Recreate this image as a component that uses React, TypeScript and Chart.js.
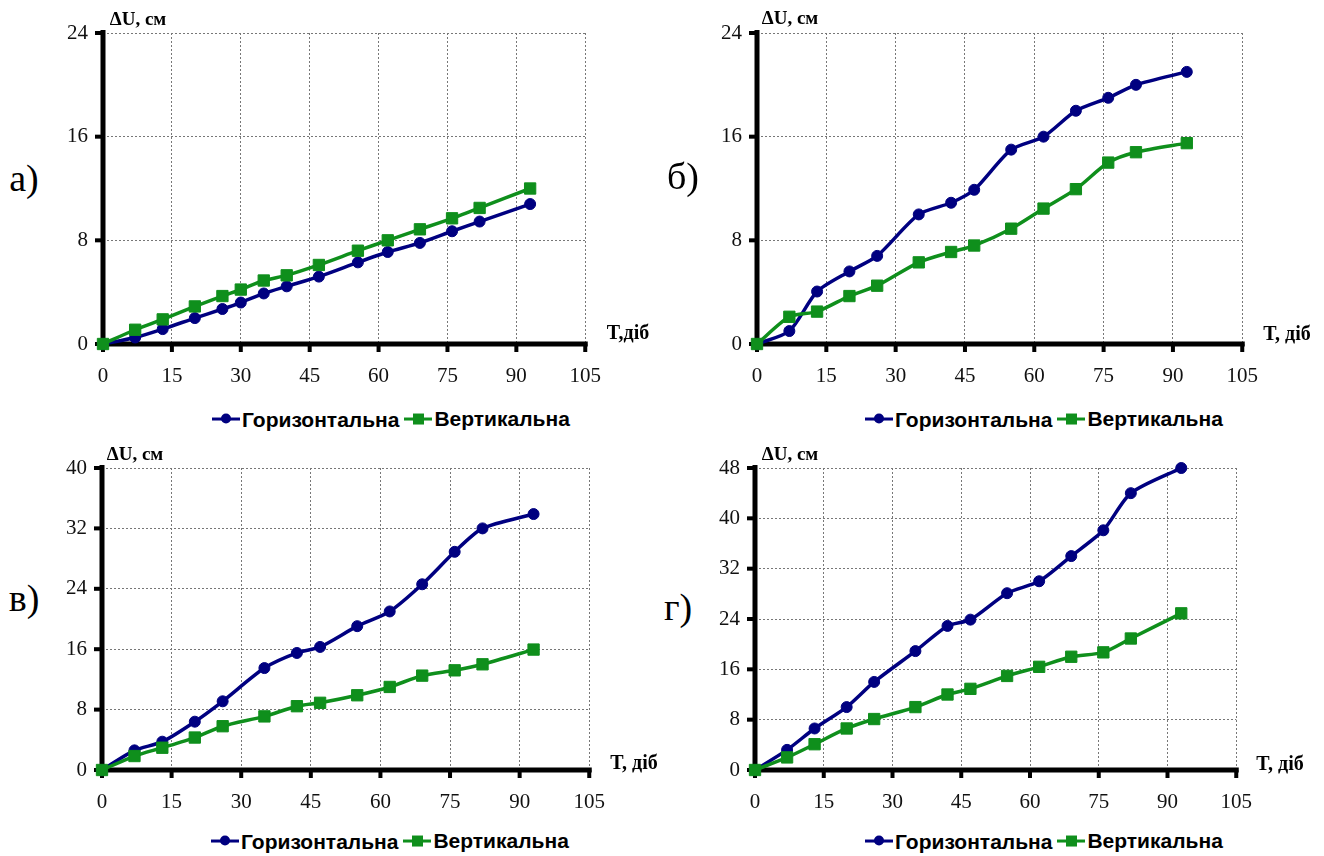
import React, { useEffect, useRef } from "react";
import { Chart, registerables } from "chart.js";

// ---- data ----
const daysA = [0, 7, 13, 20, 26, 30, 35, 40, 47, 55.5, 62, 69, 76, 82, 93];
const horizA = [0, 0.5, 1.15, 2.0, 2.7, 3.2, 3.9, 4.45, 5.2, 6.3, 7.1, 7.8, 8.7, 9.45, 10.8];
const vertA = [0, 1.1, 1.9, 2.9, 3.7, 4.2, 4.9, 5.3, 6.1, 7.2, 8.0, 8.85, 9.7, 10.5, 12.0];

const days = [0, 7, 13, 20, 26, 35, 42, 47, 55, 62, 69, 76, 82, 93];
const horizB = [0, 1.0, 4.05, 5.6, 6.8, 10.0, 10.9, 11.9, 15.0, 16.0, 18.0, 19.0, 20.0, 21.0];
const vertB = [0, 2.1, 2.5, 3.7, 4.5, 6.3, 7.1, 7.6, 8.9, 10.45, 11.95, 14.0, 14.8, 15.5];
const horizV = [0, 2.6, 3.75, 6.4, 9.1, 13.5, 15.5, 16.3, 19.05, 21.0, 24.6, 28.9, 32.0, 33.9];
const vertV = [0, 1.85, 2.95, 4.3, 5.8, 7.1, 8.45, 8.9, 9.9, 11.0, 12.5, 13.2, 14.0, 15.95];
const horizG = [0, 3.2, 6.6, 10.0, 14.0, 18.9, 22.9, 23.9, 28.1, 30.0, 34.0, 38.1, 44.0, 48.0];
const vertG = [0, 2.0, 4.1, 6.6, 8.1, 10.0, 12.0, 12.9, 14.95, 16.4, 18.0, 18.7, 20.9, 24.9];

const seriesNames = ["Горизонтальна", "Вертикальна"];
const yTitle = "ΔU, см";
const xMax = 105;
const xStep = 15;
const yStep = 8;

// ---- styles ----
const BLUE = "#000080";
const GREEN = "#0f8f1c";
const SERIF = "'Liberation Serif', 'Times New Roman', serif";
const SANS = "'Liberation Sans', Arial, sans-serif";

function drawAxes(chart: any) {
  const ctx: CanvasRenderingContext2D = chart.ctx;
  const area = chart.chartArea;
  const x = chart.scales["x"];
  const y = chart.scales["y"];
  if (!area || !x || !y) return;
  const { left, right, top, bottom } = area;
  ctx.save();
  ctx.setLineDash([]);
  ctx.globalAlpha = 1;
  ctx.fillStyle = "#000000";
  // axis bars
  ctx.fillRect(left - 2.5, top - 3, 5, bottom - top + 5.5);
  ctx.fillRect(left - 2.5, bottom - 2.5, right - left + 5, 5);
  // outward tick marks
  for (const t of x.ticks) {
    const px = x.getPixelForValue(t.value);
    ctx.fillRect(px - 2, bottom, 4, 8);
  }
  for (const t of y.ticks) {
    const py = y.getPixelForValue(t.value);
    ctx.fillRect(left - 8, py - 2, 8, 4);
  }
  ctx.restore();
}

const axesPlugin = {
  id: "thickAxes",
  beforeDatasetsDraw(chart: any) {
    drawAxes(chart);
  },
};

Chart.register(...registerables);

type Rect = { l: number; t: number; r: number; b: number };
type PanelProps = {
  xs: number[];
  horiz: number[];
  vert: number[];
  yMax: number;
  plot: Rect;
  letter: string;
  letterPos: [number, number];
  yTitlePos: [number, number];
  xTitle: string;
  xTitlePos: [number, number];
  legendPos: [number, number];
};

const Y_AXIS_W = 60;
const X_AXIS_H = 50;
const PAD = { top: 20, right: 25, bottom: 0, left: 0 };

function LegendSymbol({ color, square }: { color: string; square: boolean }) {
  return (
    <span
      style={{
        position: "relative",
        display: "inline-block",
        width: 28,
        height: 12,
        marginRight: 2,
        verticalAlign: "middle",
      }}
    >
      <span
        style={{
          position: "absolute",
          left: 0,
          top: 4.5,
          width: 28,
          height: 3,
          background: color,
        }}
      />
      <span
        style={{
          position: "absolute",
          left: square ? 8.5 : 9,
          top: square ? 0.5 : 1,
          width: square ? 11 : 10,
          height: square ? 11 : 10,
          borderRadius: square ? 0 : "50%",
          background: color,
        }}
      />
    </span>
  );
}

function Label({ pos, text, style }: { pos: [number, number]; text: string; style: React.CSSProperties }) {
  return (
    <div
      style={{
        position: "absolute",
        left: pos[0],
        top: pos[1],
        transform: "translate(-50%, -50%)",
        whiteSpace: "nowrap",
        lineHeight: 1,
        ...style,
      }}
    >
      {text}
    </div>
  );
}

function Panel(p: PanelProps) {
  const ref = useRef<HTMLCanvasElement | null>(null);
  const cx = p.plot.l - Y_AXIS_W - PAD.left;
  const cy = p.plot.t - PAD.top;
  const cw = p.plot.r - p.plot.l + Y_AXIS_W + PAD.left + PAD.right;
  const ch = p.plot.b - p.plot.t + X_AXIS_H + PAD.top + PAD.bottom;

  useEffect(() => {
    if (!ref.current) return;
    const toPts = (ys: number[]) => p.xs.map((x, i) => ({ x, y: ys[i] }));
    const gridOpts = {
      color: "#777",
      lineWidth: 1,
      tickColor: "rgba(0,0,0,0)",
      tickWidth: 1,
      tickLength: 8,
    };
    const chart = new Chart(ref.current, {
      type: "line",
      plugins: [axesPlugin],
      data: {
        datasets: [
          {
            label: seriesNames[0],
            data: toPts(p.horiz),
            borderColor: BLUE,
            backgroundColor: BLUE,
            borderWidth: 3.5,
            pointStyle: "circle",
            pointRadius: 5.5,
            pointBorderWidth: 1,
            pointBorderColor: BLUE,
            pointBackgroundColor: BLUE,
            tension: 0.25,
            clip: false,
            order: 1,
          },
          {
            label: seriesNames[1],
            data: toPts(p.vert),
            borderColor: GREEN,
            backgroundColor: GREEN,
            borderWidth: 3.5,
            pointStyle: "rect",
            pointRadius: 8,
            pointBorderWidth: 1,
            pointBorderColor: GREEN,
            pointBackgroundColor: GREEN,
            tension: 0.25,
            clip: false,
            order: 0,
          },
        ],
      },
      options: {
        animation: false,
        responsive: false,
        devicePixelRatio: 1,
        layout: { padding: PAD },
        plugins: { legend: { display: false }, tooltip: { enabled: false } },
        scales: {
          x: {
            type: "linear",
            min: 0,
            max: xMax,
            afterFit: (s: any) => {
              s.height = X_AXIS_H;
            },
            ticks: {
              stepSize: xStep,
              font: { family: SERIF, size: 21 },
              color: "#111",
              padding: 12,
              maxRotation: 0,
            },
            grid: gridOpts,
            border: { display: false, dash: [2, 2] },
          },
          y: {
            type: "linear",
            min: 0,
            max: p.yMax,
            afterFit: (s: any) => {
              s.width = Y_AXIS_W;
            },
            ticks: {
              stepSize: yStep,
              font: { family: SERIF, size: 21 },
              color: "#111",
              padding: 7,
            },
            grid: gridOpts,
            border: { display: false, dash: [2, 2] },
          },
        },
      },
    });
    return () => chart.destroy();
  }, []);

  return (
    <>
      <canvas
        ref={ref}
        width={cw}
        height={ch}
        style={{ position: "absolute", left: cx, top: cy, width: cw, height: ch }}
      />
      <Label pos={p.letterPos} text={p.letter} style={{ fontFamily: SERIF, fontSize: 38 }} />
      <Label pos={p.yTitlePos} text={yTitle} style={{ fontFamily: SERIF, fontSize: 19, fontWeight: "bold" }} />
      <Label pos={p.xTitlePos} text={p.xTitle} style={{ fontFamily: SERIF, fontSize: 20, fontWeight: "bold" }} />
      <div
        style={{
          position: "absolute",
          left: p.legendPos[0],
          top: p.legendPos[1],
          transform: "translateY(-50%)",
          whiteSpace: "nowrap",
          fontFamily: SANS,
          fontWeight: "bold",
          fontSize: 21,
          lineHeight: 1,
          color: "#000",
        }}
      >
        <LegendSymbol color={BLUE} square={false} />
        <span style={{ verticalAlign: "middle", marginRight: 5 }}>{seriesNames[0]}</span>
        <LegendSymbol color={GREEN} square={true} />
        <span style={{ verticalAlign: "middle" }}>{seriesNames[1]}</span>
      </div>
    </>
  );
}

export default function App() {
  return (
    <div
      style={{
        position: "absolute",
        left: 0,
        top: 0,
        width: 1324,
        height: 856,
        background: "#fff",
        overflow: "hidden",
      }}
    >
      <Panel
        xs={daysA}
        horiz={horizA}
        vert={vertA}
        yMax={24}
        plot={{ l: 103, t: 33, r: 588, b: 344 }}
        letter="а)"
        letterPos={[24, 178]}
        yTitlePos={[138, 18]}
        xTitle="T,діб"
        xTitlePos={[628, 332]}
        legendPos={[212, 418]}
      />
      <Panel
        xs={days}
        horiz={horizB}
        vert={vertB}
        yMax={24}
        plot={{ l: 757, t: 33, r: 1245, b: 344 }}
        letter="б)"
        letterPos={[683, 176]}
        yTitlePos={[790, 17]}
        xTitle="T, діб"
        xTitlePos={[1287, 333]}
        legendPos={[865, 418]}
      />
      <Panel
        xs={days}
        horiz={horizV}
        vert={vertV}
        yMax={40}
        plot={{ l: 102, t: 468, r: 592, b: 770 }}
        letter="в)"
        letterPos={[24, 598]}
        yTitlePos={[135, 453]}
        xTitle="T, діб"
        xTitlePos={[634, 762]}
        legendPos={[211, 840]}
      />
      <Panel
        xs={days}
        horiz={horizG}
        vert={vertG}
        yMax={48}
        plot={{ l: 755, t: 468, r: 1239, b: 770 }}
        letter="г)"
        letterPos={[678, 607]}
        yTitlePos={[790, 453]}
        xTitle="T, діб"
        xTitlePos={[1280, 763]}
        legendPos={[865, 840]}
      />
    </div>
  );
}
